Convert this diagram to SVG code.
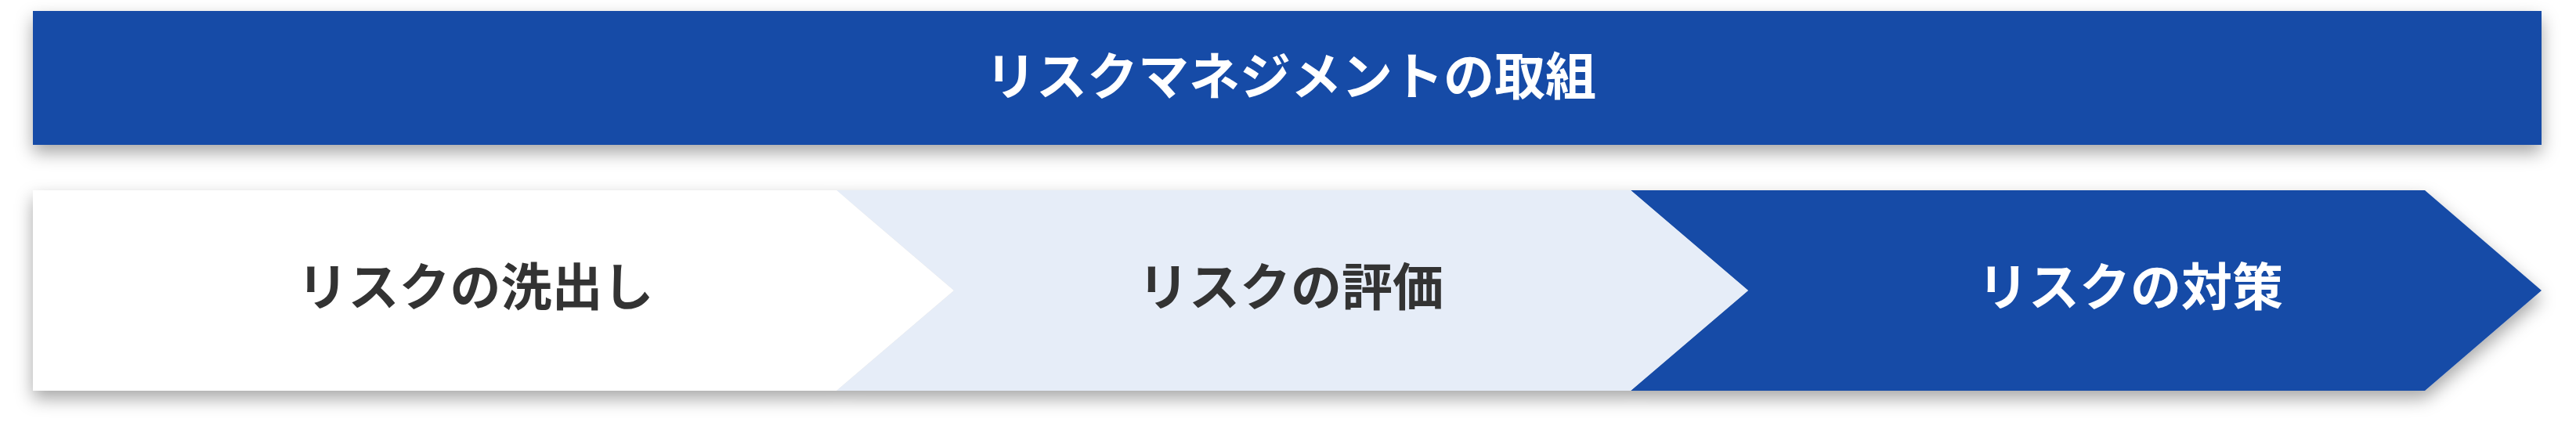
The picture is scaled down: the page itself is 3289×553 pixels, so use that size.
<svg xmlns="http://www.w3.org/2000/svg" width="3289" height="553" viewBox="0 0 3289 553">
<defs>
<filter id="sh" x="-5%" y="-30%" width="110%" height="170%">
<feDropShadow dx="0" dy="10" stdDeviation="11" flood-color="#000000" flood-opacity="0.35"/>
</filter>
</defs>
<style>
.t{font-family:"Noto Sans CJK JP","Noto Sans",sans-serif;font-weight:700;font-size:65px;text-anchor:middle;dominant-baseline:central}
.w{fill:#ffffff}
.d{fill:#333333}
.blue{fill:#184CA7}
.light{fill:#E6EDF8}
.white{fill:#ffffff}
</style>
<rect width="3289" height="553" fill="#ffffff"/>
<g id="header" filter="url(#sh)">
<rect class="blue" x="42" y="14" width="3203" height="171"/>
</g>
<text class="t w" x="1648" y="93">リスクマネジメントの取組</text>
<g filter="url(#sh)">
<g id="step3">
<polygon class="blue" points="2082,243 3096,243 3245,371 3096,499 2082,499 2232,371"/>
</g>
<g id="step2">
<polygon class="light" points="1068,243 2082,243 2232,371 2082,499 1068,499 1218,371"/>
</g>
<g id="step1">
<polygon class="white" points="42,243 1068,243 1218,371 1068,499 42,499"/>
</g>
</g>
<text class="t d" x="607" y="362">リスクの洗出し</text>
<text class="t d" x="1648" y="362">リスクの評価</text>
<text class="t w" x="2720" y="362">リスクの対策</text>
<g id="connectors"></g>
</svg>
